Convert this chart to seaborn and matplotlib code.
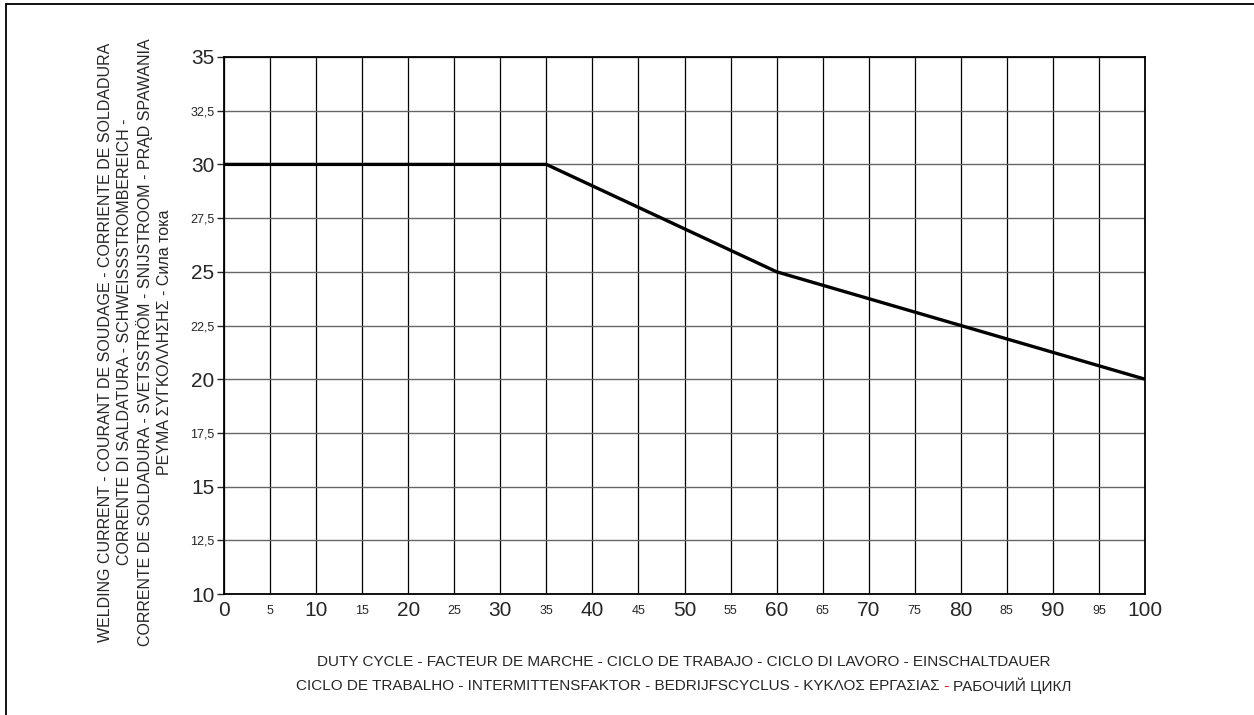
import numpy as np
import pandas as pd
import seaborn as sns
import matplotlib.pyplot as plt
from matplotlib.lines import Line2D

# duty cycle curve
duty_cycle = [0, 35, 60, 100]
current = [30, 30, 25, 20]

x_ticks = list(range(0, 101, 5))
y_ticks = [10, 12.5, 15, 17.5, 20, 22.5, 25, 27.5, 30, 32.5, 35]
y_tick_labels = ['10', '12,5', '15', '17,5', '20', '22,5', '25', '27,5', '30', '32,5', '35']

ylabel_lines = [
    'WELDING CURRENT - COURANT DE SOUDAGE - CORRIENTE DE SOLDADURA',
    'CORRENTE DI SALDATURA - SCHWEISSSTROMBEREICH -',
    'CORRENTE DE SOLDADURA - SVETSSTRÖM - SNIJSTROOM - PRĄD SPAWANIA',
    'ΡΕΥΜΑ ΣΥΓΚΟΛΛΗΣΗΣ - Сила тока',
]
xlabel_line1 = 'DUTY CYCLE - FACTEUR DE MARCHE - CICLO DE TRABAJO - CICLO DI LAVORO - EINSCHALTDAUER'
xlabel_line2_left = 'CICLO DE TRABALHO - INTERMITTENSFAKTOR - BEDRIJFSCYCLUS - ΚΥΚΛΟΣ ΕΡΓΑΣΙΑΣ'
xlabel_line2_right = 'РАБОЧИЙ ЦИКЛ'

df = pd.DataFrame({'duty': duty_cycle, 'current': current})

sns.set_style('white')
plt.rcParams['font.family'] = ['Liberation Sans', 'DejaVu Sans']

fig = plt.figure(figsize=(12.54, 7.15), dpi=100)
ax = fig.add_axes([224 / 1254, 1 - 594 / 715, (1145 - 224) / 1254, (594 - 57) / 715])

sns.lineplot(data=df, x='duty', y='current', ax=ax, color='black', linewidth=2.4)

ax.set_xlim(0, 100)
ax.set_ylim(10, 35)
ax.set_xticks(x_ticks)
ax.set_xticklabels([str(v) for v in x_ticks])
ax.set_yticks(y_ticks)
ax.set_yticklabels(y_tick_labels)

for lab, v in zip(ax.get_xticklabels(), x_ticks):
    lab.set_fontsize(15 if v % 10 == 0 else 9)
    lab.set_verticalalignment('center')
for lab, v in zip(ax.get_yticklabels(), y_ticks):
    lab.set_fontsize(15 if v % 5 == 0 else 9)

ax.tick_params(axis='x', length=0, pad=12)
ax.tick_params(axis='y', length=5, width=1, direction='out', pad=2, left=True)

for v in x_ticks:
    ax.axvline(v, color='black', linewidth=0.9, zorder=0)
for v in y_ticks:
    ax.axhline(v, color='#666666', linewidth=1.0, zorder=0)

for s in ax.spines.values():
    s.set_color('black')
    s.set_linewidth(1.3)
ax.set_xlabel('')
ax.set_ylabel('')

# y axis title, four centred rotated lines
fig.text(135 / 1254, 1 - 342 / 715, '\n'.join(ylabel_lines), rotation=90,
         ha='center', va='center', multialignment='center',
         fontsize=11.5, linespacing=1.3)

# x axis title
fig.text(684 / 1254, 1 - 662 / 715, xlabel_line1, ha='center', va='center', fontsize=11)

renderer = fig.canvas.get_renderer()
t1 = fig.text(0, 1 - 686 / 715, xlabel_line2_left, ha='left', va='center', fontsize=11)
t2 = fig.text(0, 1 - 686 / 715, ' - ', ha='left', va='center', fontsize=11, color='red')
t3 = fig.text(0, 1 - 686 / 715, xlabel_line2_right, ha='left', va='center', fontsize=11)
w1 = t1.get_window_extent(renderer).width
w2 = t2.get_window_extent(renderer).width
w3 = t3.get_window_extent(renderer).width
start = 684 - (w1 + w2 + w3) / 2
t1.set_x(start / 1254)
t2.set_x((start + w1) / 1254)
t3.set_x((start + w1 + w2) / 1254)

# outer frame (top and left edges)
fig.add_artist(Line2D([6 / 1254, 1], [1 - 4 / 715, 1 - 4 / 715], color='black', linewidth=1.3,
                      transform=fig.transFigure))
fig.add_artist(Line2D([6 / 1254, 6 / 1254], [0, 1 - 4 / 715], color='black', linewidth=1.3,
                      transform=fig.transFigure))

fig.savefig('out.png', dpi=100)
